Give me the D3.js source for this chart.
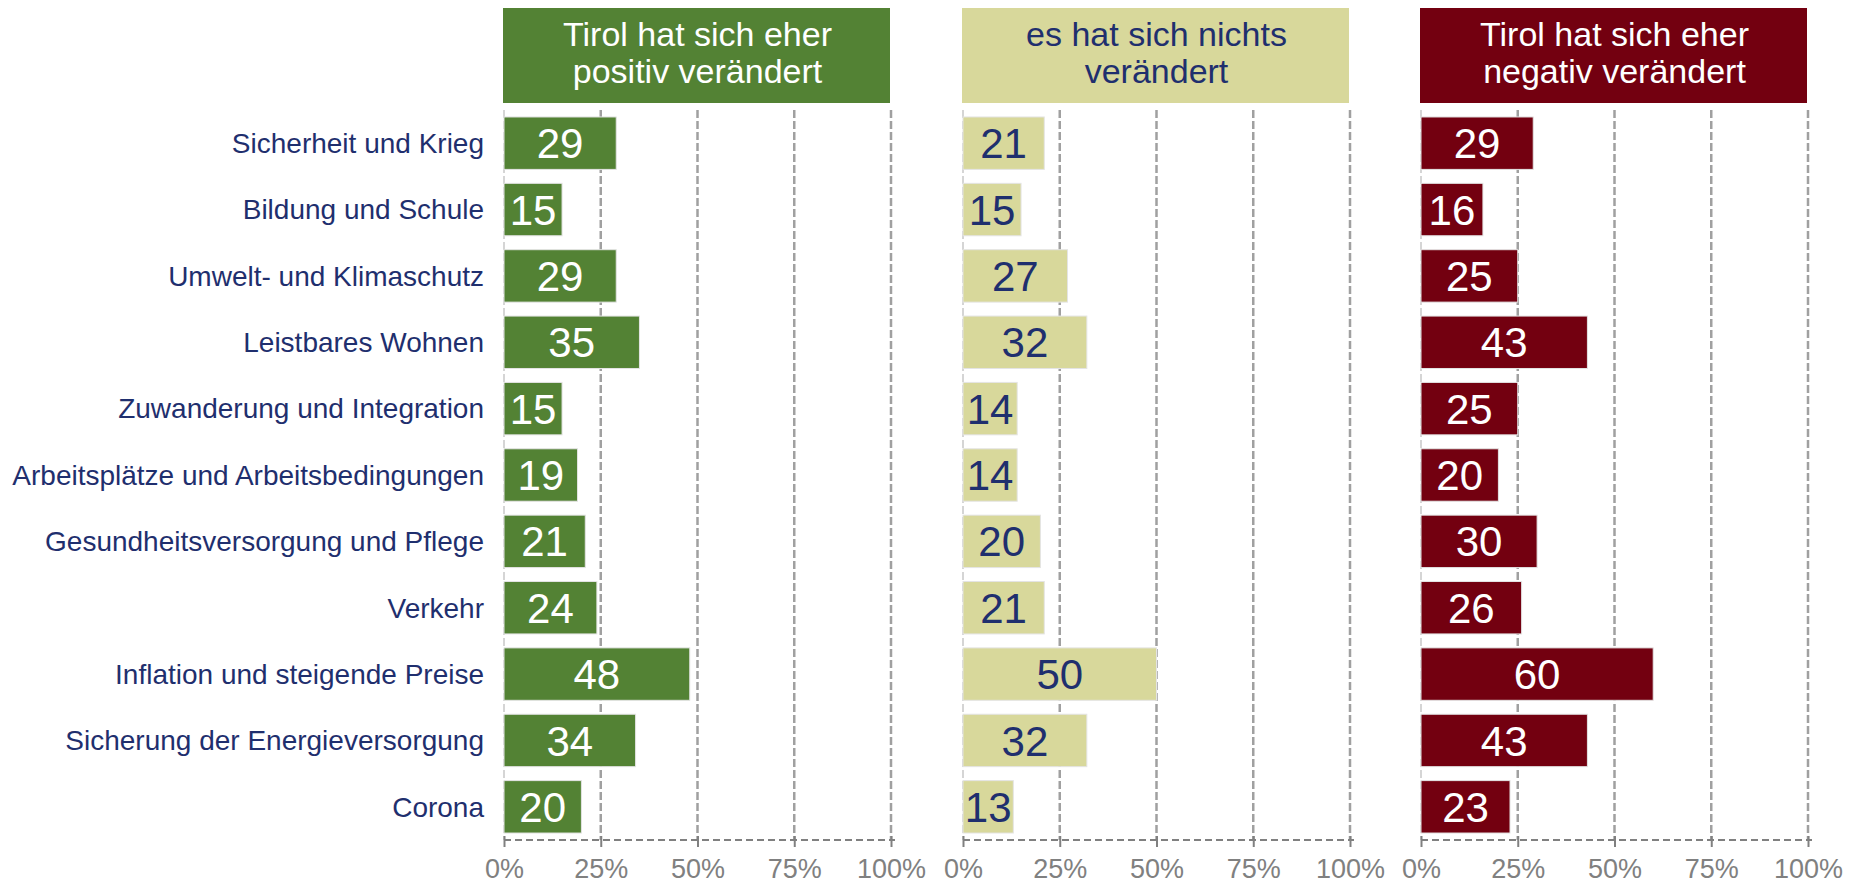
<!DOCTYPE html>
<html>
<head>
<meta charset="utf-8">
<script src="https://cdn.jsdelivr.net/npm/d3@7"></script>
<style>
  body { margin: 0; background: #fff; }
  text { font-family: "Liberation Sans", Arial, sans-serif; }
</style>
</head>
<body>
<div class="center"></div>
<script>
// data
const categories = [
  "Sicherheit und Krieg",
  "Bildung und Schule",
  "Umwelt- und Klimaschutz",
  "Leistbares Wohnen",
  "Zuwanderung und Integration",
  "Arbeitsplätze und Arbeitsbedingungen",
  "Gesundheitsversorgung und Pflege",
  "Verkehr",
  "Inflation und steigende Preise",
  "Sicherung der Energieversorgung",
  "Corona"
];
const positiv = [29, 15, 29, 35, 15, 19, 21, 24, 48, 34, 20];
const nichts  = [21, 15, 27, 32, 14, 14, 20, 21, 50, 32, 13];
const negativ = [29, 16, 25, 43, 25, 20, 30, 26, 60, 43, 23];
const titles = [
  ["Tirol hat sich eher", "positiv verändert"],
  ["es hat sich nichts", "verändert"],
  ["Tirol hat sich eher", "negativ verändert"]
];
const tickValues = [0, 25, 50, 75, 100];

const width = 1858, height = 886;
const navy = "#1f2f6e";
const grey = "#808080";

const panels = [
  {values: positiv, x0: 504, fill: "#538234", txt: "#fff", head: "#fff"},
  {values: nichts,  x0: 963, fill: "#d8d89b", txt: navy,   head: navy},
  {values: negativ, x0: 1421, fill: "#730010", txt: "#fff", head: "#fff"}
];
const panelW = 387;

var svg = d3.select(".center").append("svg")
  .attr("width", width)
  .attr("height", height);

// rows
const yScale = d3.scaleBand()
  .domain(categories)
  .range([110, 840])
  .paddingInner(0.21)
  .paddingOuter(0.105);

// category labels
svg.append("g")
  .selectAll("text")
  .data(categories)
  .enter().append("text")
  .attr("x", 484)
  .attr("y", d => yScale(d) + yScale.bandwidth() / 2)
  .attr("dy", "0.35em")
  .attr("text-anchor", "end")
  .style("font-size", "28px")
  .style("fill", navy)
  .text(d => d);

panels.forEach(function(p, i) {
  const xScale = d3.scaleLinear()
    .domain([0, 100])
    .range([p.x0, p.x0 + panelW]);

  const g = svg.append("g");

  // header box
  g.append("rect")
    .attr("x", xScale(0) - 1)
    .attr("y", 8)
    .attr("width", panelW)
    .attr("height", 95)
    .style("fill", p.fill);
  g.append("text")
    .attr("x", xScale(50))
    .attr("y", 46)
    .attr("text-anchor", "middle")
    .style("font-size", "34px")
    .style("fill", p.head)
    .selectAll("tspan")
    .data(titles[i])
    .enter().append("tspan")
    .attr("x", xScale(50))
    .attr("dy", (d, j) => j === 0 ? 0 : 37)
    .text(d => d);

  // vertical grid lines
  g.selectAll(".grid")
    .data(tickValues)
    .enter().append("line")
    .attr("x1", d => xScale(d))
    .attr("x2", d => xScale(d))
    .attr("y1", 110)
    .attr("y2", 840)
    .style("stroke", d => d === 0 ? "#c8c8c8" : "#a0a0a0")
    .style("stroke-width", d => d === 0 ? 1.5 : 2.5)
    .style("stroke-dasharray", "8,3");

  // bars
  g.selectAll(".bar")
    .data(p.values)
    .enter().append("rect")
    .attr("x", xScale(0))
    .attr("y", (d, j) => yScale(categories[j]))
    .attr("width", d => xScale(d) - xScale(0))
    .attr("height", yScale.bandwidth())
    .style("fill", p.fill)
    .style("stroke", "#e4e4e4")
    .style("stroke-width", 1);

  g.selectAll(".val")
    .data(p.values)
    .enter().append("text")
    .attr("x", d => (xScale(d) + xScale(0)) / 2)
    .attr("y", (d, j) => yScale(categories[j]) + yScale.bandwidth() / 2)
    .attr("dy", "0.36em")
    .attr("text-anchor", "middle")
    .style("font-size", "42px")
    .style("fill", p.txt)
    .text(d => d);

  // bottom axis
  const xAxis = d3.axisBottom(xScale)
    .tickValues(tickValues)
    .tickSize(7)
    .tickPadding(12)
    .tickFormat(d => d + "%");
  const ax = g.append("g")
    .attr("transform", "translate(0,840)")
    .call(xAxis);
  ax.select(".domain")
    .style("stroke", grey)
    .style("stroke-width", 2)
    .style("stroke-dasharray", "7,4")
    .attr("d", `M${xScale(0)},0H${xScale(100) + 4}`);
  ax.selectAll(".tick line")
    .attr("y1", -4)
    .style("stroke", grey)
    .style("stroke-width", 2);
  ax.selectAll(".tick text")
    .style("font-family", "'Liberation Sans', Arial, sans-serif")
    .style("font-size", "27px")
    .style("fill", grey);
});
</script>
</body>
</html>
